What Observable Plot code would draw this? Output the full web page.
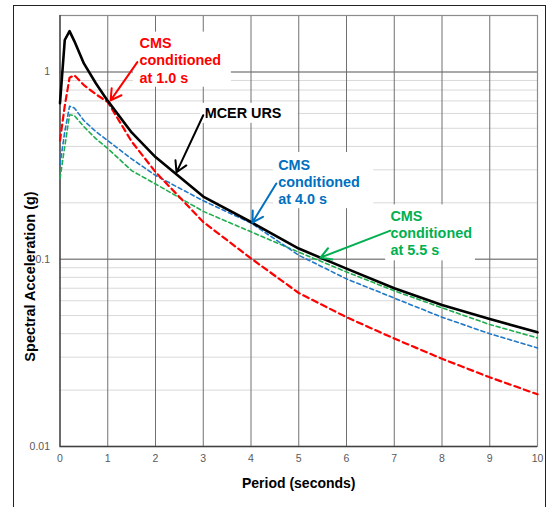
<!DOCTYPE html>
<html><head><meta charset="utf-8">
<script src="https://cdn.jsdelivr.net/npm/d3@7"></script>
<script src="https://cdn.jsdelivr.net/npm/@observablehq/plot@0.6"></script>
<style>
body{margin:0;background:#fff;}
#wrap{position:relative;width:550px;height:507px;overflow:hidden;background:#fff;}
#wrap svg{position:absolute;left:0;top:0;}
#border{position:absolute;left:13px;top:5px;width:533px;height:530px;border:1px solid #222;box-sizing:border-box;pointer-events:none;}
</style></head><body><div id="wrap"></div>
<script>
// ---- data ----
const periods = [0, 0.1, 0.2, 0.3, 0.5, 0.75, 1, 1.5, 2, 3, 4, 5, 6, 7, 8, 9, 10];
const mcerURS = [0.68, 1.48, 1.65, 1.46, 1.11, 0.87, 0.70, 0.475, 0.351, 0.216, 0.158, 0.114, 0.089, 0.070, 0.057, 0.048, 0.0407];
const cms10 =   [0.43, 0.66, 0.93, 0.96, 0.85, 0.76, 0.69, 0.425, 0.292, 0.158, 0.101, 0.066, 0.049, 0.0377, 0.0294, 0.0234, 0.019];
const cms40 =   [0.32, 0.48, 0.655, 0.642, 0.55, 0.48, 0.43, 0.343, 0.28, 0.205, 0.156, 0.105, 0.0785, 0.062, 0.049, 0.040, 0.0336];
const cms55 =   [0.27, 0.40, 0.59, 0.585, 0.51, 0.44, 0.39, 0.297, 0.252, 0.180, 0.140, 0.109, 0.0855, 0.0678, 0.055, 0.0448, 0.038];

const xTicks = [0, 1, 2, 3, 4, 5, 6, 7, 8, 9, 10];
const yTicks = [0.01, 0.1, 1];
const yMinor = [0.02, 0.03, 0.04, 0.05, 0.06, 0.07, 0.08, 0.09, 0.2, 0.3, 0.4, 0.5, 0.6, 0.7, 0.8, 0.9];
const xLabel = "Period (seconds)";
const yLabel = "Spectral Acceleration (g)";

// annotations (data coordinates)
const noteText = ["CMS\nconditioned\nat 1.0 s", "MCER URS", "CMS\nconditioned\nat 4.0 s", "CMS\nconditioned\nat 5.5 s"];
const noteColor = ["#ff0000", "#000000", "#0070c0", "#00b050"];
const noteX = [1.665, 3.03, 4.57, 6.92];
const noteY = [1.159, 0.604, 0.26, 0.139];
const arrowX1 = [1.62, 3.0, 4.53, 6.92];
const arrowY1 = [1.127, 0.587, 0.2535, 0.142];
const arrowX2 = [1.06, 2.44, 4.03, 5.455];
const arrowY2 = [0.705, 0.291, 0.157, 0.102];
const boxX1 = [1.54, 2.94, 4.47, 6.82];
const boxX2 = [3.59, 4.99, 6.57, 8.70];
const boxY1 = [1.63, 0.679, 0.371, 0.195];
const boxY2 = [0.828, 0.531, 0.186, 0.098];

// ---- build tables ----
const series = [
  {name: "MCER URS", values: mcerURS, color: "#000000", width: 2.6, dash: null},
  {name: "CMS 1.0", values: cms10, color: "#ff0000", width: 2.2, dash: "6,4"},
  {name: "CMS 4.0", values: cms40, color: "#1f78c8", width: 1.6, dash: "4,3"},
  {name: "CMS 5.5", values: cms55, color: "#1fae4f", width: 1.6, dash: "4,3"}
];
const notes = noteText.map((t, i) => ({
  text: t, color: noteColor[i], x: noteX[i], y: noteY[i],
  x1: arrowX1[i], y1: arrowY1[i], x2: arrowX2[i], y2: arrowY2[i],
  bx1: boxX1[i], bx2: boxX2[i], by1: boxY1[i], by2: boxY2[i]
}));

const lineMarks = series.slice().reverse().map(s =>
  Plot.line(periods.map((p, i) => ({p, v: s.values[i]})), {
    x: "p", y: "v", stroke: s.color, strokeWidth: s.width,
    strokeDasharray: s.dash, strokeLinejoin: "round"
  })
);

const font = "'Liberation Sans', Arial, sans-serif";

const chart = Plot.plot({
  width: 550,
  height: 507,
  marginLeft: 59.5,
  marginRight: 13,
  marginTop: 15,
  marginBottom: 61,
  style: {fontFamily: font, background: "transparent"},
  x: {domain: [0, 10]},
  y: {type: "log", domain: [0.01, 2]},
  marks: [
    Plot.ruleY(yMinor, {stroke: "#d9d9d9", strokeWidth: 1}),
    Plot.ruleY([0.1, 1], {stroke: "#8c8c8c", strokeWidth: 1.5}),
    Plot.ruleX(xTicks.slice(1, -1), {stroke: "#707070", strokeWidth: 1}),
    Plot.frame({stroke: "#8c8c8c", strokeWidth: 1.2}),
    Plot.ruleX([0], {stroke: "#404040", strokeWidth: 1.3}),
    Plot.ruleY([0.01], {stroke: "#404040", strokeWidth: 1.5}),
    Plot.rect(notes, {x1: "bx1", x2: "bx2", y1: "by1", y2: "by2", fill: "white"}),
    ...lineMarks,
    Plot.arrow(notes, {x1: "x1", y1: "y1", x2: "x2", y2: "y2", stroke: "color",
      strokeWidth: 2, headLength: 9, bend: 0}),
    Plot.text(notes, {x: "x", y: "y", text: "text", fill: "color", textAnchor: "start",
      fontSize: 14.4, fontWeight: "bold", lineHeight: 1.21}),
    Plot.axisX(xTicks, {tickSize: 0, tickPadding: 8, label: null, fontSize: 10.5, color: "#595959"}),
    Plot.axisY(yTicks, {tickSize: 0, tickPadding: 10, label: null, fontSize: 10.5, color: "#595959",
      tickFormat: d => String(d)}),
    Plot.text([xLabel], {frameAnchor: "bottom", dy: 41, text: d => d, fontSize: 14,
      fontWeight: "bold", fill: "#000"}),
    Plot.text([yLabel], {frameAnchor: "left", textAnchor: "middle", dx: -30, dy: 45.5, rotate: -90,
      text: d => d, fontSize: 14.5, fontWeight: "bold", fill: "#000"})
  ]
});

const wrap = document.getElementById("wrap");
wrap.appendChild(chart);
const border = document.createElement("div");
border.id = "border";
wrap.appendChild(border);
</script>
</body></html>
